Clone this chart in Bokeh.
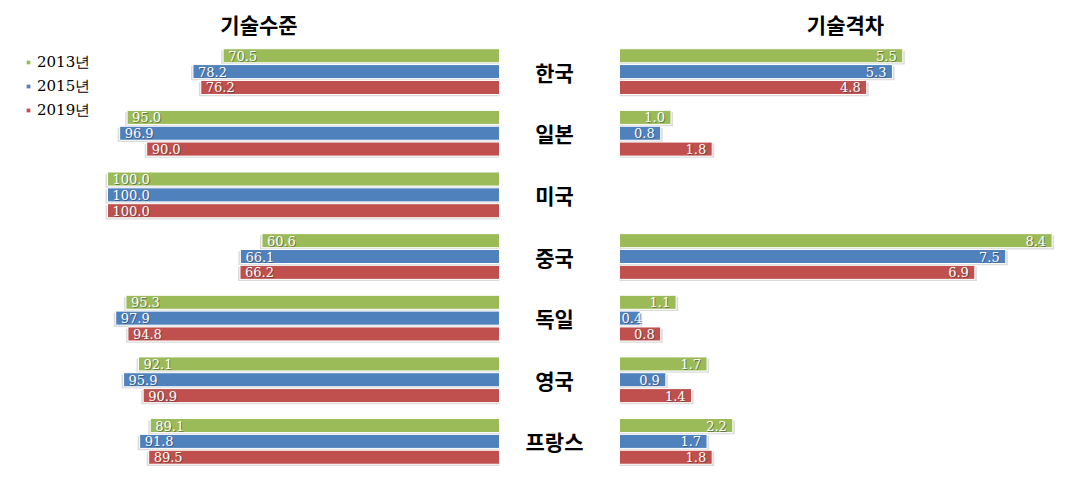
from bokeh.plotting import figure
from bokeh.layouts import column
from bokeh.models import FactorRange, Range1d, ColumnDataSource, Legend, LegendItem
from bokeh.transform import dodge
from bokeh.core.properties import value
from bokeh.embed import file_html
from bokeh.resources import INLINE

# ---------------- data ----------------
countries = ["한국", "일본", "미국", "중국", "독일", "영국", "프랑스"]
years = ["2013년", "2015년", "2019년"]
level_2013 = [70.5, 95.0, 100.0, 60.6, 95.3, 92.1, 89.1]
level_2015 = [78.2, 96.9, 100.0, 66.1, 97.9, 95.9, 91.8]
level_2019 = [76.2, 90.0, 100.0, 66.2, 94.8, 90.9, 89.5]
gap_2013 = [5.5, 1.0, 0.0, 8.4, 1.1, 1.7, 2.2]
gap_2015 = [5.3, 0.8, 0.0, 7.5, 0.4, 0.9, 1.7]
gap_2019 = [4.8, 1.8, 0.0, 6.9, 0.8, 1.4, 1.8]
panel_titles = ["기술수준", "기술격차"]

levels = [level_2013, level_2015, level_2019]
gaps = [gap_2013, gap_2015, gap_2019]
colors = ["#9BBB59", "#4F81BD", "#C0504D"]

# ---------------- layout constants ----------------
W = 1062
TH = 41            # title strip height
MH = 430           # main plot height
L_ZERO, L_PX = 499, 3.92      # px of zero, px per unit (left panel)
R_ZERO, R_PX = 619, 51.5      # px of zero, px per unit (right panel)

x_range = Range1d(L_ZERO / L_PX, -(W - L_ZERO) / L_PX)
gap_range = Range1d(-R_ZERO / R_PX, (W - R_ZERO) / R_PX)

factors = [(c, y) for c in reversed(countries) for y in reversed(years)]
y_range = FactorRange(factors=factors, factor_padding=0.0, group_padding=0.889,
                      range_padding=0.40, range_padding_units="absolute")

def bare(fig):
    fig.outline_line_color = None
    fig.background_fill_color = "white"
    fig.border_fill_color = "white"
    fig.grid.visible = False
    fig.title.visible = False
    return fig

# ---------------- title strip ----------------
pt = bare(figure(width=W, height=TH, x_range=Range1d(0, W), y_range=Range1d(TH, 0),
                 output_backend="svg", toolbar_location=None,
                 x_axis_location=None, y_axis_location=None,
                 min_border_left=0, min_border_right=0, min_border_top=0, min_border_bottom=0))
pt.text(x=[258.5, 845], y=[23.5, 23.5], text=panel_titles,
        text_align="center", text_baseline="middle", text_color="black",
        text_font=value("Noto Sans CJK KR"), text_font_style="bold", text_font_size="21px")

# ---------------- main plot ----------------
p = bare(figure(width=W, height=MH, x_range=x_range, y_range=y_range,
                output_backend="svg", toolbar_location=None,
                x_axis_location=None, y_axis_location=None,
                min_border_left=0, min_border_right=0,
                min_border_top=0, min_border_bottom=0))
p.extra_x_ranges = {"gap": gap_range}

num_font = value("DejaVu Serif")
num_size = "13px"
bar_h = 0.886

legend_items = []
for j, yr in enumerate(years):
    # ---- left panel: 기술수준 ----
    src = ColumnDataSource(dict(
        y=[(c, yr) for c in countries],
        v=levels[j],
        lab=[f"{v:.1f}" for v in levels[j]],
    ))
    p.hbar(y=dodge("y", -0.11, range=y_range), left=0, right=dodge("v", 0.5), height=bar_h,
           source=src, fill_color="#000000", fill_alpha=0.14, line_color=None)
    r = p.hbar(y="y", left=0, right="v", height=bar_h, source=src,
               fill_color=colors[j], line_color="white", line_width=1)
    legend_items.append(LegendItem(label=yr, renderers=[r]))
    p.text(x="v", y="y", text="lab", source=src, x_offset=6, y_offset=1,
           text_align="left", text_baseline="middle", text_color="#333333", text_alpha=0.5,
           text_font=num_font, text_font_size=num_size)
    p.text(x="v", y="y", text="lab", source=src, x_offset=5,
           text_align="left", text_baseline="middle", text_color="white",
           text_font=num_font, text_font_size=num_size)

    # ---- right panel: 기술격차 ----
    ys, vs, labs, tx, al, xo = [], [], [], [], [], []
    for c, v in zip(countries, gaps[j]):
        if v <= 0:
            continue
        ys.append((c, yr)); vs.append(v); labs.append(f"{v:.1f}")
        if v * R_PX < 26:
            tx.append(0.0); al.append("left"); xo.append(2)
        else:
            tx.append(v); al.append("right"); xo.append(-6)
    gsrc = ColumnDataSource(dict(y=ys, v=vs, lab=labs, tx=tx, al=al, xo=xo,
                                 xo2=[o + 1 for o in xo]))
    p.hbar(y=dodge("y", -0.11, range=y_range), left=0, right=dodge("v", 0.04), height=bar_h,
           source=gsrc, x_range_name="gap", fill_color="#000000", fill_alpha=0.14, line_color=None)
    p.hbar(y="y", left=0, right="v", height=bar_h, source=gsrc, x_range_name="gap",
           fill_color=colors[j], line_color="white", line_width=1)
    p.text(x="tx", y="y", text="lab", source=gsrc, x_range_name="gap", x_offset="xo2", y_offset=1,
           text_align="al", text_baseline="middle", text_color="#333333", text_alpha=0.5,
           text_font=num_font, text_font_size=num_size)
    p.text(x="tx", y="y", text="lab", source=gsrc, x_range_name="gap", x_offset="xo",
           text_align="al", text_baseline="middle", text_color="white",
           text_font=num_font, text_font_size=num_size)

# ---- country labels ----
p.text(x=(554 - R_ZERO) / R_PX, y=countries, text=countries, x_range_name="gap",
       text_align="center", text_baseline="middle", text_color="black",
       text_font=value("Noto Sans CJK KR"), text_font_style="bold", text_font_size="21px")

# ---- legend ----
legend = Legend(items=legend_items, location=(25, MH - (52 - TH) - 68), margin=0, padding=0,
                spacing=4, label_height=20, glyph_width=6, glyph_height=6,
                label_standoff=6, border_line_color=None, background_fill_alpha=0,
                label_text_font="DejaVu Serif", label_text_font_size="15px",
                label_text_color="black")
p.add_layout(legend)

layout = column(pt, p, spacing=0)
open("out.html", "w").write(file_html(layout, INLINE))
